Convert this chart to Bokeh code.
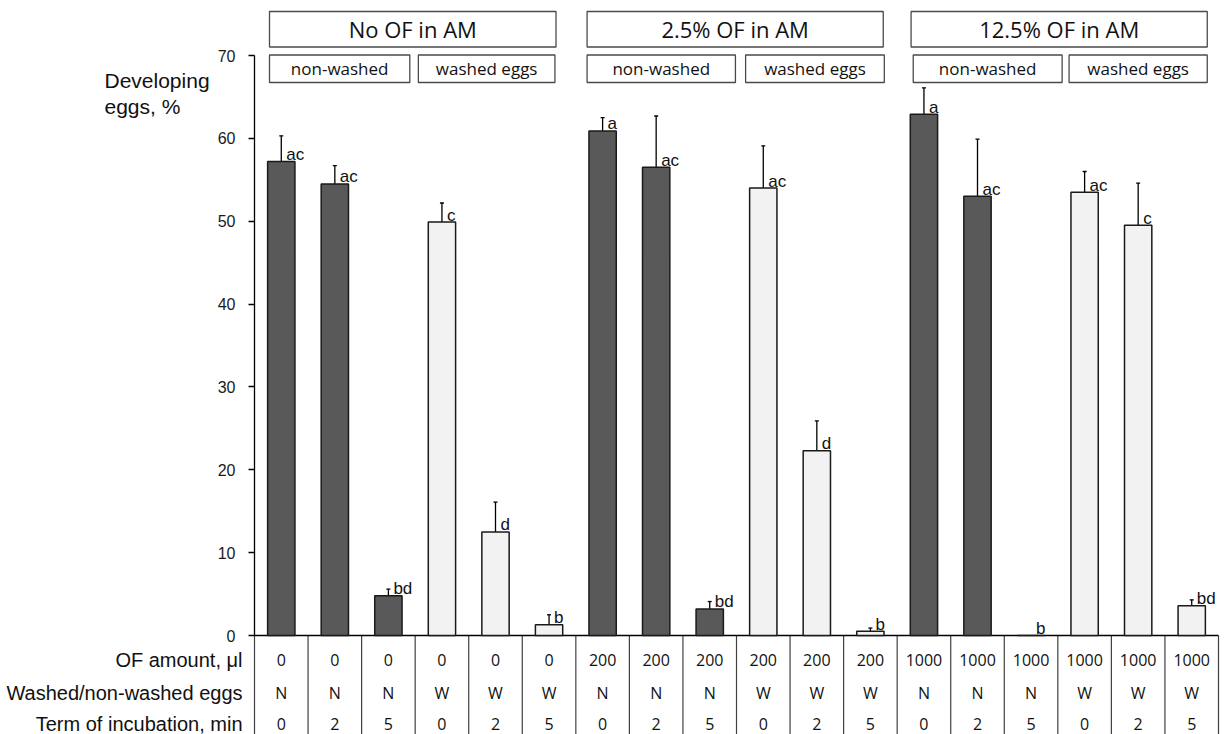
from bokeh.plotting import figure
from bokeh.models import (Range1d, LinearAxis, FixedTicker, ColumnDataSource,
                          Whisker, TeeHead)
from bokeh.embed import file_html
from bokeh.resources import INLINE
from bokeh.core.properties import value

# ---------------- data ----------------
of_amount = ["0", "0", "0", "0", "0", "0",
             "200", "200", "200", "200", "200", "200",
             "1000", "1000", "1000", "1000", "1000", "1000"]
washed = ["N", "N", "N", "W", "W", "W"] * 3
term = ["0", "2", "5"] * 6
developing = [57.2, 54.5, 4.8, 49.9, 12.5, 1.3,
              60.9, 56.5, 3.2, 54.0, 22.3, 0.5,
              62.9, 53.0, 0.0, 53.5, 49.5, 3.6]
errors = [3.1, 2.2, 0.8, 2.3, 3.6, 1.2,
          1.6, 6.2, 0.9, 5.1, 3.6, 0.4,
          3.2, 6.9, 0.0, 2.5, 5.1, 0.7]
letters = ["ac", "ac", "bd", "c", "d", "b",
           "a", "ac", "bd", "ac", "d", "b",
           "a", "ac", "b", "ac", "c", "bd"]
group_titles = ["No OF in AM", "2.5% OF in AM", "12.5% OF in AM"]
subgroup_titles = ["non-washed", "washed eggs"]
row_titles = ["OF amount, \u03bcl", "Washed/non-washed eggs", "Term of incubation, min"]
y_ticks = [0, 10, 20, 30, 40, 50, 60, 70]
y_title = ["Developing", "eggs, %"]

# ---------------- layout helpers (pixel -> data) ----------------
W, H = 1225, 734
N = len(developing)
COL0_PX, COLN_PX = 254, 1218
COLW = (COLN_PX - COL0_PX) / N
Y0_PX, Y70_PX = 635, 55
K = (Y0_PX - Y70_PX) / 70.0


def dx(px):
    return (px - COL0_PX) / COLW


def dy(py):
    return (Y0_PX - py) / K


p = figure(width=W, height=H, x_range=Range1d(dx(0), dx(W)), y_range=Range1d(dy(H), dy(0)),
           min_border_left=0, min_border_right=0, min_border_top=0, min_border_bottom=0,
           x_axis_location=None, y_axis_location=None,
           toolbar_location=None, output_backend="svg",
           outline_line_color=None)
p.xgrid.visible = False
p.ygrid.visible = False
p.background_fill_color = "white"
p.border_fill_color = "white"

# y axis, drawn at x = 0 (left edge of the first category)
yaxis = LinearAxis(bounds=(0, 70), ticker=FixedTicker(ticks=y_ticks), fixed_location=0)
yaxis.axis_line_color = "#000000"
yaxis.axis_line_width = 1.3
yaxis.major_tick_line_color = "#000000"
yaxis.major_tick_line_width = 1.3
yaxis.major_tick_out = 6
yaxis.major_tick_in = 0
yaxis.minor_tick_line_color = None
yaxis.major_label_standoff = 13
yaxis.major_label_text_font = "Liberation Sans"
yaxis.major_label_text_font_size = "16px"
yaxis.major_label_text_color = "#1a1a1a"
p.add_layout(yaxis, "left")

xc = [i + 0.5 for i in range(N)]
colors = ["#595959" if w == "N" else "#F2F2F2" for w in washed]

# table separators + x axis line
seps = list(range(N + 1))
p.segment(x0=seps, y0=[0] * len(seps), x1=seps, y1=[dy(H + 5)] * len(seps),
          line_color="#404040", line_width=1.2)
p.segment(x0=[0], y0=[0], x1=[N], y1=[0], line_color="#000000", line_width=1.3)

# bars
src = ColumnDataSource(dict(x=xc, top=developing, color=colors, letters=letters))
p.vbar(x="x", top="top", width=0.51, bottom=0, source=src, fill_color="color",
       line_color="#1a1a1a", line_width=1.5)

# error bars
keep = [i for i in range(N) if errors[i] > 0]
esrc = ColumnDataSource(dict(x=[xc[i] for i in keep],
                             upper=[developing[i] + errors[i] for i in keep],
                             lower=[developing[i] - errors[i] for i in keep]))
wh = Whisker(base="x", upper="upper", lower="lower", source=esrc,
             line_color="#000000", line_width=1.3,
             upper_head=TeeHead(size=4, line_color="#000000", line_width=1.3),
             lower_head=TeeHead(size=4, line_color="#000000", line_width=1.3))
p.add_layout(wh)

# significance letters
p.text(x="x", y="top", text="letters", source=src, x_offset=5, y_offset=-7,
       text_align="left", text_baseline="alphabetic",
       text_font=value("Liberation Sans"), text_font_size="17px", text_color="#111111")

# table values
row_px = [659, 692, 723]
for rows, py in zip([of_amount, washed, term], row_px):
    p.text(x=xc, y=[dy(py)] * N, text=rows, text_align="center", text_baseline="middle",
           text_font=value("Open Sans"), text_font_size="16px", text_color="#111111")

# header boxes (positions in category units)
big_boxes = [(0.28, 5.63), (6.21, 11.74), (12.26, 17.79)]
sub_boxes = [[(0.28, 2.90), (3.06, 5.61)],
             [(6.21, 8.98), (9.17, 11.76)],
             [(12.30, 15.08), (15.21, 17.79)]]
bt, bb = dy(11), dy(46.5)
st, sb = dy(54.5), dy(82)
p.quad(left=[b[0] for b in big_boxes], right=[b[1] for b in big_boxes],
       top=[bt] * 3, bottom=[bb] * 3, fill_color="white",
       line_color="#4a4a4a", line_width=1.3)
p.text(x=[(b[0] + b[1]) / 2 for b in big_boxes], y=[(bt + bb) / 2] * 3,
       text=group_titles, text_align="center", text_baseline="middle",
       text_font=value("Open Sans"), text_font_size="22px", text_color="#111111")
sl = [s[0] for g in sub_boxes for s in g]
sr = [s[1] for g in sub_boxes for s in g]
p.quad(left=sl, right=sr, top=[st] * 6, bottom=[sb] * 6, fill_color="white",
       line_color="#4a4a4a", line_width=1.3)
p.text(x=[(a + b) / 2 for a, b in zip(sl, sr)], y=[(st + sb) / 2] * 6,
       text=subgroup_titles * 3, text_align="center", text_baseline="middle",
       text_font=value("Open Sans"), text_font_size="17px", text_color="#111111")

# left-side texts
p.text(x=[dx(104)] * 2, y=[dy(80), dy(106)], text=y_title,
       text_align="left", text_baseline="alphabetic",
       text_font=value("Liberation Sans"), text_font_size="21px", text_color="#111111")
p.text(x=[dx(242)] * 3, y=[dy(py) for py in row_px], text=row_titles,
       text_align="right", text_baseline="middle",
       text_font=value("Liberation Sans"), text_font_size="20px", text_color="#111111")

open("out.html", "w").write(file_html(p, INLINE))
